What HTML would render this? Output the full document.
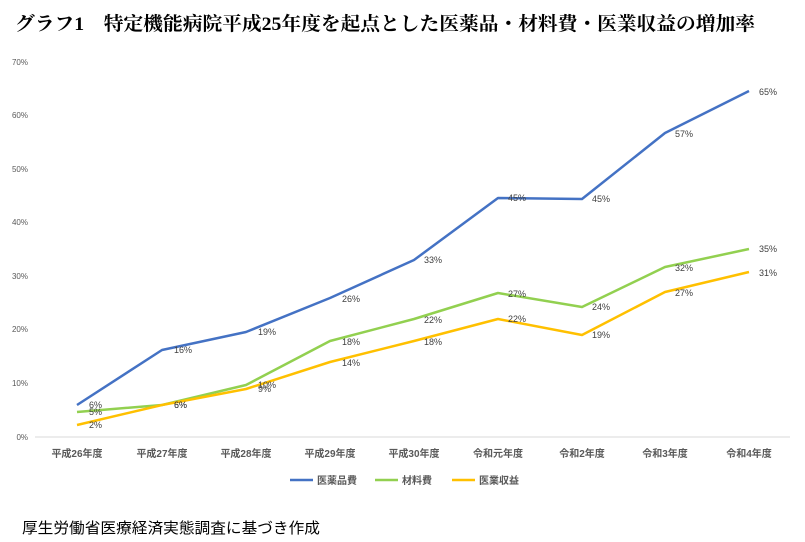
<!DOCTYPE html>
<html><head><meta charset="utf-8"><style>
html,body{margin:0;padding:0;background:#fff;}
svg{display:block;}
</style></head><body>
<svg width="805" height="542" xmlns="http://www.w3.org/2000/svg">
<rect width="805" height="542" fill="#fff"/>
<text x="15" y="30" font-family="'Liberation Serif','Noto Serif CJK SC',serif" font-size="19" font-weight="bold" fill="#000" textLength="740" lengthAdjust="spacingAndGlyphs">グラフ1　特定機能病院平成25年度を起点とした医薬品・材料費・医業収益の増加率</text>
<g font-family="'Liberation Sans','Noto Sans CJK JP',sans-serif" font-size="8" fill="#595959" text-anchor="end">
<text x="28" y="440">0%</text><text x="28" y="386">10%</text><text x="28" y="332">20%</text><text x="28" y="279">30%</text><text x="28" y="225">40%</text><text x="28" y="172">50%</text><text x="28" y="118">60%</text><text x="28" y="65">70%</text>
</g>
<line x1="35" y1="437" x2="790" y2="437" stroke="#d9d9d9" stroke-width="1"/>
<g font-family="'Liberation Sans','Noto Sans CJK JP',sans-serif" font-size="10" font-weight="bold" fill="#595959" text-anchor="middle">
<text x="77" y="457">平成26年度</text><text x="162" y="457">平成27年度</text><text x="246" y="457">平成28年度</text><text x="330" y="457">平成29年度</text><text x="414" y="457">平成30年度</text><text x="498" y="457">令和元年度</text><text x="582" y="457">令和2年度</text><text x="665" y="457">令和3年度</text><text x="749" y="457">令和4年度</text>
</g>
<g fill="none" stroke-width="2.5" stroke-linejoin="round">
<polyline stroke="#4472c4" points="77,405 162,350 246,332 330,298 414,260 498,198 582,199 665,133 749,91"/>
<polyline stroke="#92d050" points="77,412 162,405 246,385 330,341 414,319 498,293 582,307 665,267 749,249"/>
<polyline stroke="#ffc000" points="77,425 162,405 246,389 330,362 414,341 498,319 582,335 665,292 749,272"/>
</g>
<g font-family="'Liberation Sans','Noto Sans CJK JP',sans-serif" font-size="9" fill="#404040">
<text x="89" y="408">6%</text><text x="89" y="415">5%</text><text x="89" y="428">2%</text>
<text x="174" y="353">16%</text><text x="174" y="408">6%</text><text x="174" y="408">6%</text>
<text x="258" y="335">19%</text><text x="258" y="388">10%</text><text x="258" y="392">9%</text>
<text x="342" y="302">26%</text><text x="342" y="345">18%</text><text x="342" y="366">14%</text>
<text x="424" y="263">33%</text><text x="424" y="323">22%</text><text x="424" y="345">18%</text>
<text x="508" y="201">45%</text><text x="508" y="297">27%</text><text x="508" y="322">22%</text>
<text x="592" y="202">45%</text><text x="592" y="310">24%</text><text x="592" y="338">19%</text>
<text x="675" y="137">57%</text><text x="675" y="271">32%</text><text x="675" y="296">27%</text>
<text x="759" y="95">65%</text><text x="759" y="252">35%</text><text x="759" y="276">31%</text>
</g>
<g font-family="'Liberation Sans','Noto Sans CJK JP',sans-serif" font-size="10" font-weight="bold" fill="#595959">
<line x1="290" y1="480" x2="313" y2="480" stroke="#4472c4" stroke-width="2.5"/><text x="317" y="484">医薬品費</text>
<line x1="375" y1="480" x2="398" y2="480" stroke="#92d050" stroke-width="2.5"/><text x="402" y="484">材料費</text>
<line x1="452" y1="480" x2="475" y2="480" stroke="#ffc000" stroke-width="2.5"/><text x="479" y="484">医業収益</text>
</g>
<text x="22" y="533" font-family="'Liberation Sans','Noto Sans CJK JP',sans-serif" font-size="15" fill="#000" textLength="298" lengthAdjust="spacingAndGlyphs">厚生労働省医療経済実態調査に基づき作成</text>
</svg>
</body></html>
